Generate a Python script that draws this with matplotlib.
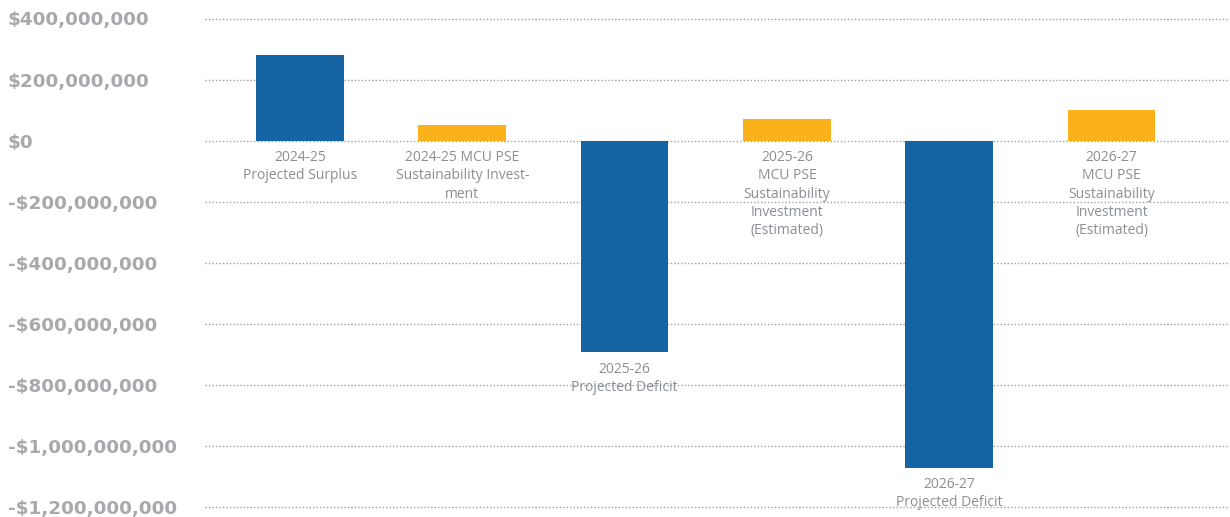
import matplotlib.pyplot as plt
from matplotlib.ticker import FuncFormatter

# data
labels = [
    "2024-25\nProjected Surplus",
    "2024-25 MCU PSE\nSustainability Invest-\nment",
    "2025-26\nProjected Deficit",
    "2025-26\nMCU PSE\nSustainability\nInvestment\n(Estimated)",
    "2026-27\nProjected Deficit",
    "2026-27\nMCU PSE\nSustainability\nInvestment\n(Estimated)",
]
values = [280e6, 52e6, -692e6, 72e6, -1071e6, 101e6]
bar_colors = ["#1565a5", "#fab11a", "#1565a5", "#fab11a", "#1565a5", "#fab11a"]
yticks = [400e6, 200e6, 0, -200e6, -400e6, -600e6, -800e6, -1000e6, -1200e6]


def money(v, pos=None):
    if v == 0:
        return "$0"
    sign = "-" if v < 0 else ""
    return f"{sign}${abs(v):,.0f}"


fig = plt.figure(figsize=(12.3, 5.17), dpi=100)
ax = fig.add_axes([205 / 1230, 10 / 517, 1 - 205 / 1230, 488.5 / 517])

x = list(range(len(values)))
ax.bar(x, values, width=0.54, color=bar_colors, zorder=3)

ax.set_xlim(-0.585, 5.73)
ax.set_ylim(-1200e6, 400e6)
ax.set_yticks(yticks)
ax.yaxis.set_major_formatter(FuncFormatter(money))
ax.set_xticks([])
ax.grid(axis="y", color="#a0a0a0", linestyle=(0, (1, 1.5)), linewidth=1.0, zorder=0)
for gl in ax.yaxis.get_gridlines():
    gl.set_clip_on(False)
ax.tick_params(axis="y", length=0, pad=142, labelsize=13.2, labelcolor="#a7a9ac")
for t in ax.get_yticklabels():
    t.set_horizontalalignment("left")
    t.set_fontweight("bold")
    t.set_fontfamily("DejaVu Sans")
for s in ax.spines.values():
    s.set_visible(False)

# category labels under the zero line or under the bar end
for xi, v, lab in zip(x, values, labels):
    base = min(v, 0)
    ax.annotate(lab, (xi, base), xytext=(0, -7), textcoords="offset points",
                ha="center", va="top", fontsize=10, color="#8a8f94",
                family="Open Sans", linespacing=1.28, zorder=4)

plt.savefig("out.png", dpi=100)
